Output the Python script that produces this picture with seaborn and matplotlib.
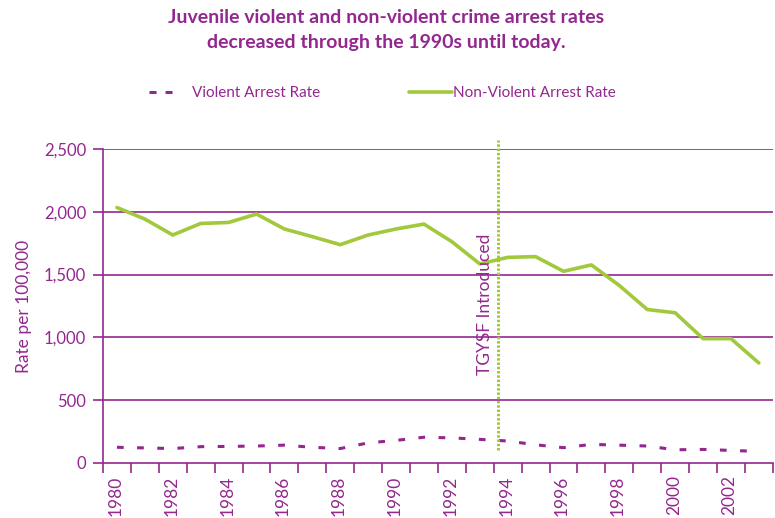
import numpy as np
import pandas as pd
import matplotlib
matplotlib.use("Agg")
import matplotlib.pyplot as plt
from matplotlib.lines import Line2D
from matplotlib.ticker import FuncFormatter, FixedLocator
import seaborn as sns

# Juvenile arrest rates per 100,000, 1980-2003
years = list(range(1980, 2004))
violent_rate = [125, 120, 115, 130, 132, 135, 142, 125, 115, 160, 180, 205,
                200, 188, 175, 145, 122, 148, 142, 135, 105, 108, 100, 92]
nonviolent_rate = [2034, 1942, 1815, 1907, 1915, 1982, 1863, 1802, 1738, 1815,
                   1863, 1902, 1762, 1585, 1637, 1643, 1526, 1577, 1413, 1222,
                   1196, 990, 990, 796]
y_ticks = [0, 500, 1000, 1500, 2000, 2500]
event_label = "TGYSF Introduced"
event_position = 13.67  # category position where the program starts

PURPLE = "#93278F"
GREEN = "#A2C83B"

sns.set_theme(style="white")
plt.rcParams["font.family"] = ["Lato", "DejaVu Sans"]

df = pd.DataFrame({
    "idx": np.arange(len(years)),
    "year": years,
    "violent": violent_rate,
    "nonviolent": nonviolent_rate,
})

fig = plt.figure(figsize=(7.75, 5.18), dpi=100)
ax = fig.add_axes([0.1329, 0.1062, 0.8643, 0.6062])

sns.lineplot(data=df, x="idx", y="nonviolent", ax=ax, color=GREEN,
             linewidth=2.6, legend=False)
sns.lineplot(data=df, x="idx", y="violent", ax=ax, color=PURPLE,
             linewidth=2.2, legend=False)
ax.lines[-1].set_dashes((2.2, 4.4))
ax.lines[-1].set_dash_capstyle("butt")

ax.set_xlim(-0.5, len(years) - 0.5)
ax.set_ylim(0, 2500)

# horizontal gridlines
for v in y_ticks[1:]:
    ax.axhline(v, color=PURPLE, linewidth=1.2, zorder=0)

# y axis
ax.set_yticks(y_ticks)
ax.yaxis.set_major_formatter(FuncFormatter(lambda v, p: f"{int(v):,}"))
ax.tick_params(axis="y", direction="out", length=7, width=1.2, color=PURPLE,
               labelcolor=PURPLE, labelsize=12, pad=5, left=True)

# x axis: tick marks at category boundaries, labels on every other year
ax.xaxis.set_major_locator(FixedLocator(np.arange(-0.5, len(years), 1.0)))
ax.xaxis.set_major_formatter(FuncFormatter(lambda v, p: ""))
ax.xaxis.set_minor_locator(FixedLocator(np.arange(0, len(years), 2) - 0.05))
ax.xaxis.set_minor_formatter(
    FuncFormatter(lambda v, p: str(years[int(round(v + 0.05))])))
ax.tick_params(axis="x", which="major", direction="out", length=7, width=1.2,
               color=PURPLE, bottom=True)
ax.tick_params(axis="x", which="minor", length=0, labelcolor=PURPLE,
               labelsize=12.5, labelrotation=90, pad=9)

for side in ["top", "right"]:
    ax.spines[side].set_visible(False)
for side in ["left", "bottom"]:
    ax.spines[side].set_color(PURPLE)
    ax.spines[side].set_linewidth(1.2)

ax.set_xlabel("")
ax.set_ylabel("Rate per 100,000", color=PURPLE, fontsize=12.5, labelpad=9)

# program introduction marker
ax.plot([event_position, event_position], [100, 2570], color=GREEN,
        linewidth=2.2, dashes=(0.8, 0.6), clip_on=False, zorder=3)
ax.text(event_position - 0.47, 700, event_label, rotation=90, color=PURPLE,
        fontsize=12.5, ha="center", va="bottom")

# title
fig.text(0.498, 0.966, "Juvenile violent and non-violent crime arrest rates",
         ha="center", va="center", color=PURPLE, fontsize=14,
         fontweight="bold")
fig.text(0.498, 0.918, "decreased through the 1990s until today.",
         ha="center", va="center", color=PURPLE, fontsize=14,
         fontweight="bold")

# legend
h_violent = Line2D([], [], color=PURPLE, linewidth=2.2, dashes=(2.3, 2.95),
                   dash_capstyle="butt")
h_nonviolent = Line2D([], [], color=GREEN, linewidth=2.6)
leg1 = fig.legend([h_violent], ["Violent Arrest Rate"], loc="center left",
                  bbox_to_anchor=(0.174, 0.82), frameon=False, fontsize=11,
                  handlelength=1.5, handletextpad=1.37, labelcolor=PURPLE)
leg2 = fig.legend([h_nonviolent], ["Non-Violent Arrest Rate"],
                  loc="center left", bbox_to_anchor=(0.5097, 0.82),
                  frameon=False, fontsize=11, handlelength=2.8,
                  handletextpad=0.12, labelcolor=PURPLE)

fig.savefig("out.png", dpi=100)
